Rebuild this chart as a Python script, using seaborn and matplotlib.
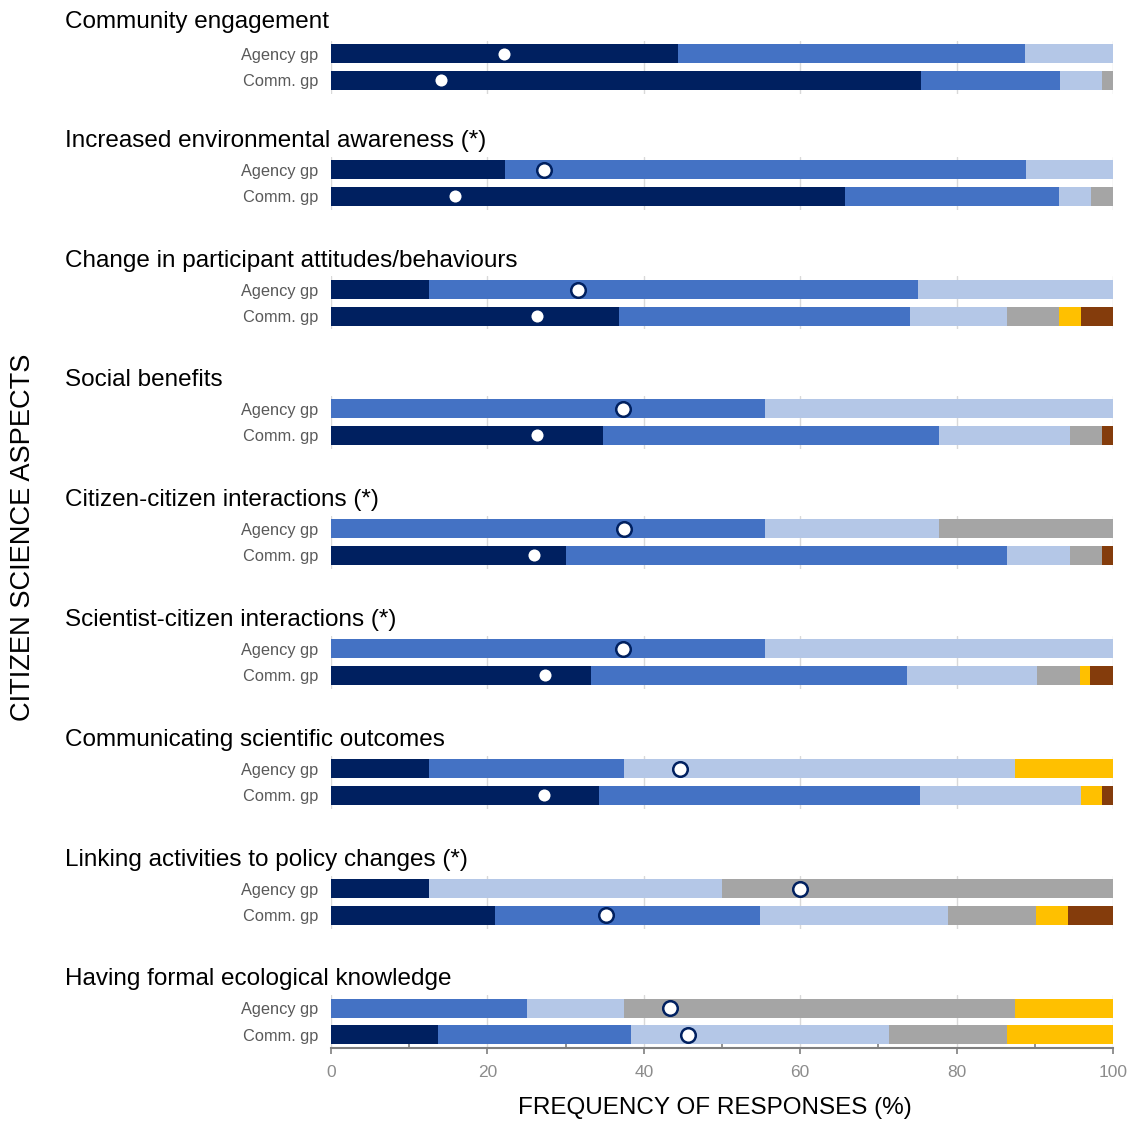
import numpy as np
import pandas as pd
import matplotlib
matplotlib.use("Agg")
import matplotlib.pyplot as plt
import seaborn as sns
from matplotlib.ticker import MultipleLocator

# ---- data -------------------------------------------------------------
aspects = [
    "Community engagement",
    "Increased environmental awareness (*)",
    "Change in participant attitudes/behaviours",
    "Social benefits",
    "Citizen-citizen interactions (*)",
    "Scientist-citizen interactions (*)",
    "Communicating scientific outcomes",
    "Linking activities to policy changes (*)",
    "Having formal ecological knowledge",
]
groups = ["Agency gp", "Comm. gp"]

# share of responses (%) per response level, (Agency gp, Comm. gp) for each aspect
level_1 = [(44.4, 75.4), (22.2, 65.7), (12.5, 36.8), (0.0, 34.8), (0.0, 30.1),
           (0.0, 33.2), (12.5, 34.3), (12.5, 21.0), (0.0, 13.7)]
level_2 = [(44.4, 17.8), (66.7, 27.4), (62.5, 37.2), (55.5, 43.0), (55.5, 56.3),
           (55.5, 40.4), (25.0, 41.0), (0.0, 33.9), (25.0, 24.7)]
level_3 = [(11.2, 5.4), (11.1, 4.1), (25.0, 12.4), (44.5, 16.7), (22.3, 8.1),
           (44.5, 16.7), (50.0, 20.6), (37.5, 24.0), (12.5, 32.9)]
level_4 = [(0.0, 1.4), (0.0, 2.8), (0.0, 6.7), (0.0, 4.1), (22.2, 4.1),
           (0.0, 5.5), (0.0, 0.0), (50.0, 11.2), (50.0, 15.1)]
level_5 = [(0.0, 0.0), (0.0, 0.0), (0.0, 2.8), (0.0, 0.0), (0.0, 0.0),
           (0.0, 1.3), (12.5, 2.7), (0.0, 4.2), (12.5, 13.6)]
level_6 = [(0.0, 0.0), (0.0, 0.0), (0.0, 4.1), (0.0, 1.4), (0.0, 1.4),
           (0.0, 2.9), (0.0, 1.4), (0.0, 5.7), (0.0, 0.0)]

# summary score position for each group (on the same 0-100 scale)
score_agency = [22.1, 27.3, 31.6, 37.4, 37.5, 37.4, 44.6, 60.0, 43.3]
score_comm = [14.1, 15.9, 26.3, 26.4, 25.9, 27.4, 27.3, 35.2, 45.7]

levels = [level_1, level_2, level_3, level_4, level_5, level_6]
level_colors = ["#002060", "#4472C4", "#B4C7E7", "#A5A5A5", "#FFC000", "#843C0C"]

# ---- style ------------------------------------------------------------
sns.set_theme(style="white")
plt.rcParams["font.family"] = ["Liberation Sans", "DejaVu Sans"]

W, H = 1135, 1124
fig = plt.figure(figsize=(W / 100, H / 100), dpi=100)

ax_left, ax_width = 331, 782
unit = 26.5
panel_mid = [67, 183, 303, 422, 542, 662, 782, 902, 1021.5]
title_y = [22, 141, 261, 380, 500, 620, 740, 860, 979]

for i, aspect in enumerate(aspects):
    ax = fig.add_axes([ax_left / W, 1 - (panel_mid[i] + unit) / H,
                       ax_width / W, 2 * unit / H])
    shares = np.array([lvl[i] for lvl in levels])  # (levels, groups)
    cum = shares.cumsum(axis=0)

    # stacked bars: draw cumulative totals from the last level back to the first
    for k in range(len(levels) - 1, -1, -1):
        ends = np.where(shares[k] > 0, cum[k], 0.0)
        df = pd.DataFrame({"group": groups, "end": ends})
        sns.barplot(data=df, x="end", y="group", order=groups, orient="h",
                    color=level_colors[k], saturation=1, width=0.7,
                    linewidth=0, ax=ax, zorder=2)

    sns.scatterplot(x=[score_agency[i], score_comm[i]], y=np.arange(len(groups)),
                    s=110, color="white", edgecolor="#002060", linewidth=1.8,
                    ax=ax, zorder=4, legend=False)

    ax.set_xlim(0, 100)
    ax.set_ylim(1.5, -0.5)
    ax.set_xlabel("")
    ax.set_ylabel("")
    ax.set_axisbelow(True)
    ax.xaxis.set_major_locator(MultipleLocator(20))
    ax.grid(axis="x", color="#D9D9D9", linewidth=1)
    ax.grid(axis="y", visible=False)
    for sp in ax.spines.values():
        sp.set_visible(False)
    ax.tick_params(axis="y", length=0, pad=9, labelsize=11.8, labelcolor="#595959")

    if i == len(aspects) - 1:
        ax.spines["bottom"].set_visible(True)
        ax.spines["bottom"].set_color("#7F7F7F")
        ax.spines["bottom"].set_linewidth(1.5)
        ax.xaxis.set_minor_locator(MultipleLocator(10))
        ax.tick_params(axis="x", which="major", direction="out", length=4,
                       width=1.2, color="#7F7F7F", labelsize=12.5,
                       labelcolor="#8C8C8C", pad=8, bottom=True)
        ax.tick_params(axis="x", which="minor", direction="in", length=4,
                       width=1.2, color="#7F7F7F", bottom=True)
    else:
        ax.tick_params(axis="x", length=0, labelbottom=False)

    fig.text(65 / W, 1 - title_y[i] / H, aspect, fontsize=17.5,
             ha="left", va="center", color="black")

fig.text(715 / W, 1 - 1108 / H, "FREQUENCY OF RESPONSES (%)", fontsize=17.5,
         ha="center", va="center", color="black")
fig.text(23 / W, 1 - 537 / H, "CITIZEN SCIENCE ASPECTS", fontsize=19.6,
         rotation=90, ha="center", va="center", color="black")

fig.savefig("out.png", dpi=100)
